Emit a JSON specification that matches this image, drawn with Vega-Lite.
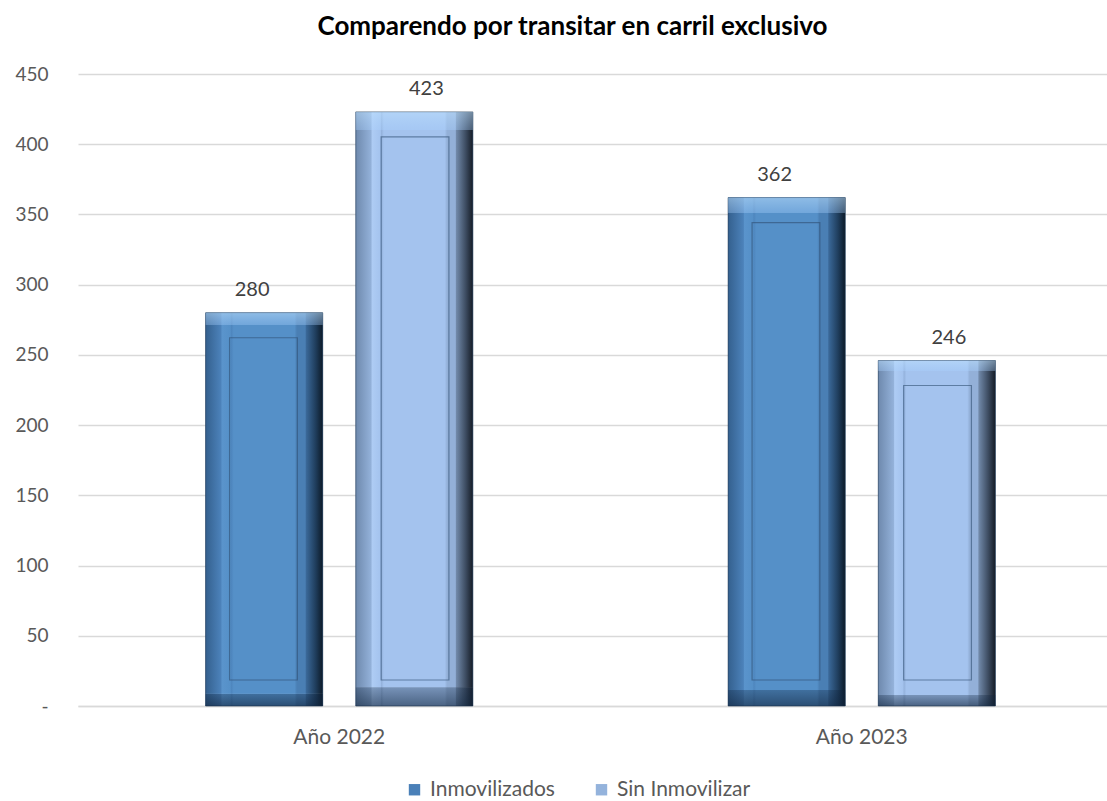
{
  "$schema": "https://vega.github.io/schema/vega-lite/v6.json",
  "autosize": "none",
  "width": 1045,
  "height": 632,
  "padding": {"left": 78, "top": 74, "right": 0, "bottom": 95},
  "background": "white",
  "config": {
    "font": "Lato",
    "view": {"stroke": null}
  },
  "title": {
    "text": "Comparendo por transitar en carril exclusivo",
    "fontSize": 26,
    "fontWeight": "bold",
    "font": "Lato",
    "color": "#000000",
    "anchor": "middle",
    "dx": -28,
    "offset": 25
  },
  "data": {
    "values": [
      {"year": "Año 2022", "series": "Inmovilizados", "value": 280},
      {"year": "Año 2022", "series": "Sin Inmovilizar", "value": 423},
      {"year": "Año 2023", "series": "Inmovilizados", "value": 362},
      {"year": "Año 2023", "series": "Sin Inmovilizar", "value": 246}
    ]
  },
  "encoding": {
    "x": {
      "field": "year",
      "type": "nominal",
      "scale": {"paddingInner": 0, "paddingOuter": 0},
      "axis": {
        "title": null,
        "labelAngle": 0,
        "labelFontSize": 21,
        "labelColor": "#595959",
        "labelPadding": 20,
        "ticks": false,
        "domainColor": "#D9D9D9",
        "domainWidth": 1.5
      }
    },
    "y": {
      "field": "value",
      "type": "quantitative",
      "stack": null,
      "scale": {"domain": [0, 450], "nice": false},
      "axis": {
        "title": null,
        "values": [0, 50, 100, 150, 200, 250, 300, 350, 400, 450],
        "labelExpr": "datum.value == 0 ? '-' : datum.label",
        "labelFontSize": 19,
        "labelColor": "#595959",
        "labelPadding": 30,
        "ticks": false,
        "domain": false,
        "gridColor": "#D9D9D9",
        "gridWidth": 1.5
      }
    }
  },
  "resolve": {"scale": {"xOffset": "independent"}},
  "layer": [
    {
      "mark": {"type": "bar"},
      "encoding": {
        "xOffset": {
          "field": "series", "type": "nominal", "sort": ["Inmovilizados", "Sin Inmovilizar"],
          "scale": {"paddingInner": 0.22, "paddingOuter": 0.85}
        },
        "color": {
          "field": "series",
          "type": "nominal",
          "sort": ["Inmovilizados", "Sin Inmovilizar"],
          "scale": {"domain": ["Inmovilizados", "Sin Inmovilizar"], "range": ["#4A80B8", "#94B3DC"]},
          "legend": {
            "title": null,
            "orient": "none",
            "legendX": 326,
            "legendY": 705,
            "direction": "horizontal",
            "symbolType": "square",
            "symbolSize": 130,
            "symbolStrokeWidth": 0,
            "labelFontSize": 21,
            "labelColor": "#595959",
            "labelOffset": 5,
            "columnPadding": 36
          }
        }
      }
    },
    {
      "mark": {"type": "bar", "stroke": "#1E3550", "strokeWidth": 0.6},
      "encoding": {
        "xOffset": {
          "field": "series", "type": "nominal", "sort": ["Inmovilizados", "Sin Inmovilizar"],
          "scale": {"paddingInner": 0.22, "paddingOuter": 0.85}
        },
        "color": {
          "condition": {
            "test": "datum.series == 'Inmovilizados'",
            "value": {
              "gradient": "linear", "x1": 0, "x2": 1, "y1": 0, "y2": 0,
              "stops": [
                {"offset": 0, "color": "#34608E"},
                {"offset": 0.13, "color": "#4C82BA"},
                {"offset": 0.14, "color": "#5A94CC"},
                {"offset": 0.21, "color": "#5590C8"},
                {"offset": 0.22, "color": "#4E86BE"},
                {"offset": 0.24, "color": "#5590C8"},
                {"offset": 0.76, "color": "#5590C8"},
                {"offset": 0.78, "color": "#4A7FB4"},
                {"offset": 0.85, "color": "#4A7FB4"},
                {"offset": 0.86, "color": "#3A6898"},
                {"offset": 0.94, "color": "#1F3D5C"},
                {"offset": 1, "color": "#0C1A28"}
              ]
            }
          },
          "value": {
            "gradient": "linear", "x1": 0, "x2": 1, "y1": 0, "y2": 0,
            "stops": [
              {"offset": 0, "color": "#6E89AD"},
              {"offset": 0.13, "color": "#93B1D9"},
              {"offset": 0.14, "color": "#AECCF4"},
              {"offset": 0.21, "color": "#A4C3EE"},
              {"offset": 0.22, "color": "#94B2DC"},
              {"offset": 0.24, "color": "#A4C3EE"},
              {"offset": 0.76, "color": "#A4C3EE"},
              {"offset": 0.78, "color": "#93B0D8"},
              {"offset": 0.85, "color": "#93B0D8"},
              {"offset": 0.86, "color": "#7088A8"},
              {"offset": 0.94, "color": "#3C4B60"},
              {"offset": 1, "color": "#151C26"}
            ]
          }
        }
      }
    },
    {
      "mark": {
        "type": "bar",
        "color": {
          "gradient": "linear", "x1": 0, "x2": 0, "y1": 0, "y2": 1,
          "stops": [
            {"offset": 0, "color": "rgba(190,225,255,0.55)"},
            {"offset": 0.03, "color": "rgba(170,210,255,0.35)"},
            {"offset": 0.031, "color": "rgba(255,255,255,0)"},
            {"offset": 0.968, "color": "rgba(255,255,255,0)"},
            {"offset": 0.969, "color": "rgba(15,35,60,0.3)"},
            {"offset": 1, "color": "rgba(15,35,60,0.6)"}
          ]
        }
      },
      "encoding": {
        "xOffset": {
          "field": "series", "type": "nominal", "sort": ["Inmovilizados", "Sin Inmovilizar"],
          "scale": {"paddingInner": 0.22, "paddingOuter": 0.85}
        }
      }
    },
    {
      "mark": {"type": "bar", "yOffset": 25, "y2Offset": -26, "fillOpacity": 0, "stroke": "#2E4E72", "strokeWidth": 1.2, "strokeOpacity": 0.6},
      "encoding": {
        "xOffset": {
          "field": "series", "type": "nominal", "sort": ["Inmovilizados", "Sin Inmovilizar"],
          "scale": {"paddingInner": 0.553, "paddingOuter": 1.018}
        },
        "y2": {"datum": 0}
      }
    },
    {
      "mark": {"type": "text", "fontSize": 20, "color": "#404040", "baseline": "alphabetic", "dy": -17},
      "encoding": {
        "xOffset": {
          "field": "series", "type": "nominal", "sort": ["Inmovilizados", "Sin Inmovilizar"],
          "scale": {"type": "point", "padding": 1.2417}
        },
        "text": {"field": "value", "type": "quantitative"}
      }
    }
  ]
}
